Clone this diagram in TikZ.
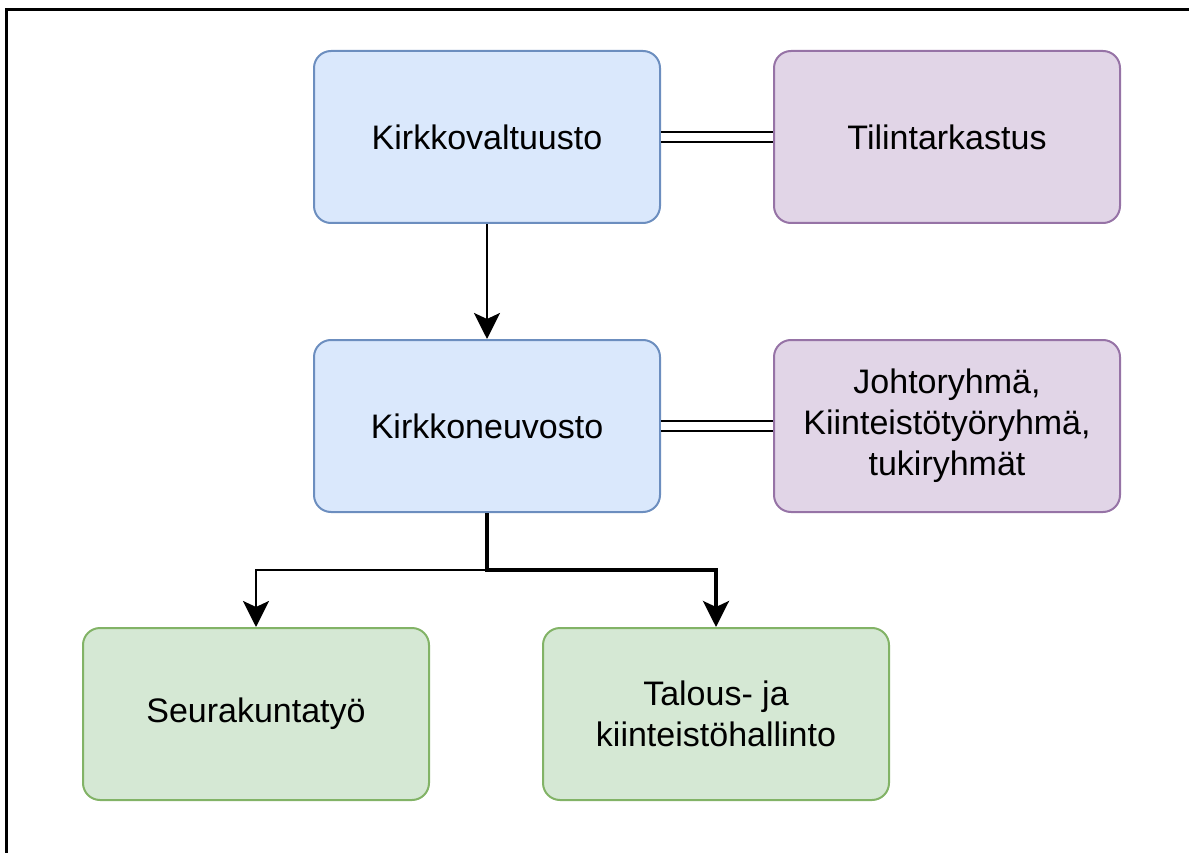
\documentclass[tikz,border=0pt]{standalone}
\usepackage{fontspec}
\setmainfont{Liberation Sans}
\usepackage{tikz}
\usetikzlibrary{arrows.meta,positioning}
\definecolor{blueFill}{HTML}{DAE8FC}
\definecolor{blueLine}{HTML}{6C8EBF}
\definecolor{violetFill}{HTML}{E1D5E7}
\definecolor{violetLine}{HTML}{9673A6}
\definecolor{greenFill}{HTML}{D5E8D4}
\definecolor{greenLine}{HTML}{82B366}
\begin{document}
\begin{tikzpicture}[
  x=1pt, y=-1pt,
  every node/.style={font=\fontsize{34}{41}\selectfont},
  orgbox/.style n args={2}{draw=#1, fill=#2, rounded corners=17pt, line width=2pt,
    minimum width=346pt, minimum height=172pt, inner sep=0pt, align=center},
  downarrow/.style={line width=2.8pt, black,
    -{Stealth[length=26pt, width=26pt, inset=6pt]}},
  dblline/.style={line width=2pt, black, double=white, double distance=8.5pt},
]
\useasboundingbox (0,0) rectangle (1189,853);
% frame
\draw[line width=3pt] (6,853) -- (6,10) -- (1189,10);
% TOP ROW
\node[orgbox={blueLine}{blueFill}] (kv) at (487,137) {Kirkkovaltuusto};
\node[orgbox={violetLine}{violetFill}] (tt) at (947,137) {Tilintarkastus};
\draw[dblline] (kv.east) -- (tt.west);
% MIDDLE ROW
\node[orgbox={blueLine}{blueFill}] (kn) at (487,426) {Kirkkoneuvosto};
\node[orgbox={violetLine}{violetFill}] (jr) at (947,426)
  {Johtoryhmä,\\Kiinteistötyöryhmä,\\tukiryhmät};
\draw[dblline] (kn.east) -- (jr.west);
\draw[downarrow] (kv.south) -- (kn.north);
% BOTTOM ROW
\node[orgbox={greenLine}{greenFill}] (sk) at (256,714) {Seurakuntatyö};
\node[orgbox={greenLine}{greenFill}] (tk) at (716,714) {Talous- ja\\kiinteistöhallinto};
\coordinate (fork) at (487,570);
\draw[downarrow] (kn.south) -- (fork) -| (sk.north);
\draw[downarrow, line width=3.4pt] (kn.south) -- (fork) -| (tk.north);
\end{tikzpicture}
\end{document}
